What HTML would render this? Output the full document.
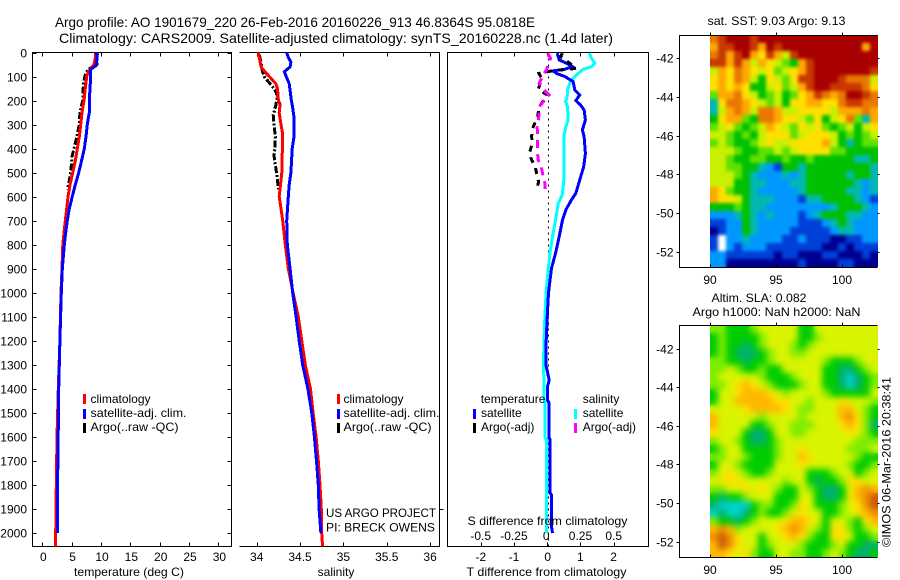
<!DOCTYPE html>
<html>
<head>
<meta charset="utf-8">
<title>Argo profile</title>
<style>
html,body{margin:0;padding:0;background:#fff;}
svg{display:block;}
text{font-family:"Liberation Sans",sans-serif;font-size:12px;fill:#000;}
.ln{fill:none;stroke-linejoin:miter;stroke-linecap:butt;shape-rendering:crispEdges;}
.ax{stroke:#000;stroke-width:1;shape-rendering:crispEdges;fill:none;}
</style>
</head>
<body>
<svg id="chart" xmlns="http://www.w3.org/2000/svg" width="900" height="580" viewBox="0 0 900 580">
  <defs>
    <clipPath id="clip-sst"><rect x="710" y="35" width="168" height="232"/></clipPath>
    <clipPath id="clip-sla"><rect x="710" y="325" width="168" height="232"/></clipPath>
    <filter id="soft-sst" filterUnits="userSpaceOnUse" x="690" y="15" width="210" height="272" color-interpolation-filters="sRGB">
      <feGaussianBlur in="SourceGraphic" stdDeviation="1.6" result="b"/>
      <feMerge><feMergeNode in="SourceGraphic"/><feMergeNode in="b"/></feMerge>
    </filter>
    <filter id="soft-sla" filterUnits="userSpaceOnUse" x="690" y="305" width="210" height="272" color-interpolation-filters="sRGB">
      <feGaussianBlur in="SourceGraphic" stdDeviation="3.2" result="b"/>
      <feMerge><feMergeNode in="SourceGraphic"/><feMergeNode in="b"/></feMerge>
    </filter>
  </defs>
  <text x="55" y="27" textLength="480" lengthAdjust="spacingAndGlyphs" style="font-size:14px">Argo profile: AO 1901679_220 26-Feb-2016 20160226_913 46.8364S 95.0818E</text>
  <text x="59" y="43" textLength="554" lengthAdjust="spacingAndGlyphs" style="font-size:14px">Climatology: CARS2009. Satellite-adjusted climatology: synTS_20160228.nc (1.4d later)</text>

  <path class="ax" d="M32.5 52.5H231.5V546.5H32.5Z"/>
  <path class="ax" d="M239.5 52.5H439.5V546.5H239.5"/>
  <path class="ax" d="M447.5 52.5H648.5V546.5H447.5Z"/>
  <line class="ax" x1="439.5" y1="509.5" x2="443.5" y2="509.5"/>

  <g id="ticks"></g>
  <g id="series"></g>

  <g>
    <rect x="83" y="394" width="3" height="10" fill="#ff0000"/>
    <rect x="83" y="409" width="3" height="10" fill="#0000ff"/>
    <rect x="83" y="423" width="3" height="10" fill="#000"/>
    <text x="90.5" y="403">climatology</text>
    <text x="90.5" y="417" textLength="96" lengthAdjust="spacingAndGlyphs">satellite-adj. clim.</text>
    <text x="90.5" y="431" textLength="88" lengthAdjust="spacingAndGlyphs">Argo(..raw -QC)</text>
  </g>
  <g>
    <rect x="337" y="394" width="3" height="10" fill="#ff0000"/>
    <rect x="337" y="409" width="3" height="10" fill="#0000ff"/>
    <rect x="337" y="423" width="3" height="10" fill="#000"/>
    <text x="343.5" y="403">climatology</text>
    <text x="343.5" y="417" textLength="96" lengthAdjust="spacingAndGlyphs">satellite-adj. clim.</text>
    <text x="343.5" y="431" textLength="88" lengthAdjust="spacingAndGlyphs">Argo(..raw -QC)</text>
  </g>
  <text x="326" y="517" textLength="110" lengthAdjust="spacingAndGlyphs">US ARGO PROJECT</text>
  <text x="326" y="531.5" textLength="109" lengthAdjust="spacingAndGlyphs">PI: BRECK OWENS</text>

  <g>
    <text x="480.7" y="403">temperature</text>
    <rect x="473" y="409" width="3" height="10" fill="#0000ff"/>
    <rect x="473" y="423" width="3" height="10" fill="#000"/>
    <text x="481" y="417">satellite</text>
    <text x="481" y="431">Argo(-adj)</text>
    <text x="582.7" y="403">salinity</text>
    <rect x="574" y="409" width="3" height="10" fill="#00ffff"/>
    <rect x="574" y="423" width="3" height="10" fill="#ff00ff"/>
    <text x="582.7" y="417">satellite</text>
    <text x="582.7" y="431">Argo(-adj)</text>
  </g>

  <text x="129" y="576" text-anchor="middle" textLength="110" lengthAdjust="spacingAndGlyphs">temperature (deg C)</text>
  <text x="336" y="576" text-anchor="middle">salinity</text>
  <text x="546.5" y="576" text-anchor="middle" textLength="160" lengthAdjust="spacingAndGlyphs">T difference from climatology</text>
  <text x="547.5" y="525" text-anchor="middle" textLength="160" lengthAdjust="spacingAndGlyphs">S difference from climatology</text>

  <text x="707.5" y="25" textLength="138" lengthAdjust="spacingAndGlyphs">sat. SST: 9.03 Argo: 9.13</text>
  <text x="711.5" y="302" textLength="95" lengthAdjust="spacingAndGlyphs">Altim. SLA: 0.082</text>
  <text x="692.5" y="316" textLength="168" lengthAdjust="spacingAndGlyphs">Argo h1000: NaN h2000: NaN</text>
  <g id="maps"></g>
  <text transform="translate(890.5,547) rotate(-90)" textLength="170" lengthAdjust="spacingAndGlyphs">©IMOS 06-Mar-2016 20:38:41</text>
</svg>

<script>
// ---- axis tick values ----
var depthTicks = [0,100,200,300,400,500,600,700,800,900,1000,1100,1200,1300,1400,1500,1600,1700,1800,1900,2000];
var tempTicks = [0,5,10,15,20,25,30];
var salTicks = [34,34.5,35,35.5,36];
var salTickLabels = ['34','34.5','35','35.5','36'];
var dTTicks = [-2,-1,0,1,2];
var dSTicks = [-0.5,-0.25,0,0.25,0.5];
var lonTicks = [90,95,100];
var latTicks = [-42,-44,-46,-48,-50,-52];

// ---- temperature profiles ----
var tempClimDepth = [0,20,50,80,100,150,200,250,300,350,400,450,500,550,600,650,700,750,800,900,1000,1200,1400,1600,1800,2000,2056];
var tempClim = [9.1,9.05,8.8,7.85,7.56,7.33,7.1,6.76,6.54,6.3,5.96,5.62,5.18,4.72,4.38,4.15,3.92,3.7,3.5,3.35,3.19,3.0,2.73,2.5,2.39,2.28,2.28];
var tempSatDepth = [0,30,55,70,100,200,250,300,350,400,450,500,550,600,650,700,750,800,900,1000,1200,1400,1500,1700,1800,2000];
var tempSat = [9.26,9.3,9.15,8.24,8.24,8.0,8.0,7.67,7.45,7.16,6.7,6.2,5.62,5.1,4.6,4.26,3.98,3.75,3.4,3.24,3.0,2.79,2.75,2.67,2.56,2.56];
var tempArgoDepth = [5,50,70,85,130,200,250,300,350,400,430,480,520,570];
var tempArgo = [9.37,9.3,7.85,7.4,7.0,6.9,6.4,6.3,5.9,5.4,5.1,4.9,4.7,4.3];

// ---- salinity profiles ----
var salClimDepth = [0,30,60,80,100,130,150,200,215,250,300,340,500,600,650,700,800,900,1000,1100,1200,1300,1400,1500,1600,1700,1800,1900,2000,2056];
var salClim = [34.02,34.035,34.05,34.095,34.145,34.22,34.24,34.25,34.27,34.26,34.28,34.30,34.29,34.26,34.28,34.30,34.33,34.365,34.42,34.48,34.52,34.56,34.62,34.65,34.685,34.71,34.73,34.745,34.75,34.76];
var salSatDepth = [0,20,40,60,80,100,130,200,230,270,350,400,500,550,600,700,800,900,1000,1100,1200,1300,1400,1500,1600,1700,1800,1900,2000];
var salSat = [34.346,34.365,34.395,34.385,34.32,34.34,34.375,34.4,34.415,34.43,34.43,34.41,34.395,34.375,34.365,34.346,34.353,34.385,34.415,34.455,34.49,34.53,34.59,34.635,34.665,34.69,34.71,34.72,34.74];
var salArgoDepth = [10,40,70,100,130,155,180,220,260,300,350,400,430,480,530,570];
var salArgo = [34.03,34.05,34.06,34.085,34.155,34.21,34.24,34.22,34.19,34.2,34.215,34.21,34.2,34.22,34.24,34.25];

// ---- differences from climatology ----
var dTSatDepth = [3,31,45,59,70,76,87,100,121,156,177,200,218,239,281,322,350,420,475,531,586,614,655,697,766,836,898,1000,1100,1200,1300,1363,1390,1446,1460,1605,1610,1834,1840,1973,2000];
var dTSat = [0.30,0.36,0.58,0.76,0.53,0.18,0.28,0.53,0.78,0.83,0.98,0.86,1.0,1.11,1.15,1.06,1.11,1.15,1.10,0.98,0.86,0.73,0.56,0.46,0.36,0.25,0.13,0.04,0.0,-0.03,-0.04,0.06,0.01,0.01,0.06,0.06,0.09,0.09,0.13,0.13,0.16];
var dSSatDepth = [3,24,45,59,70,87,107,128,156,184,205,225,281,309,350,420,531,593,628,697,766,836,898,1000,1100,1200,1300,1363,1446,1460,1605,1610,1973,2000];
var dSSat = [0.316,0.333,0.358,0.333,0.27,0.233,0.195,0.17,0.153,0.15,0.138,0.153,0.158,0.14,0.125,0.125,0.125,0.113,0.083,0.063,0.04,0.02,0.008,-0.008,-0.017,-0.024,-0.028,-0.025,-0.023,-0.015,-0.015,-0.005,-0.005,-0.005];
var dTArgoDepth = [3,17,45,66,76,87,107,121,153,177,198,225,267,316,350,378,420,447,475,503,538,565];
var dTArgo = [0.46,0.40,0.68,0.88,0.16,-0.25,-0.17,-0.19,-0.27,0.0,-0.1,-0.24,-0.29,-0.44,-0.47,-0.45,-0.54,-0.47,-0.36,-0.32,-0.26,-0.31];
var dSArgoDepth = [3,24,73,87,128,153,177,225,281,311,350,420,447,475,517,544,579];
var dSArgo = [0.003,0.025,-0.005,-0.025,-0.06,-0.03,0.015,-0.06,-0.065,-0.075,-0.073,-0.073,-0.068,-0.045,-0.03,-0.018,-0.013];

// ---- map grids: each letter is one colour level, one string per latitude row, north to south ----
var sstRows = [
"jklllklllllllllllllll","ikkllkilkllllllllllil","jkiklihkigkllllllllll","kkikigihgfeikllllllll",
"gihjihghfghiklllllllk","hihjigehgfhkklllkjjjg","hihiheeghfgikllkkkkjh","fiijhgefgefhikjijllkj",
"dhjjihgfgehhiihhjkkjj","dgijigjjigghhhhgiiiji","ehiifejjihhgfheghjfdi","fghfefgihgfhghfefgegh",
"ggfefeghhhfghhhgefefg","fgfeefghgghhhhigedeff","gggfeeffgfghhhhffeeee","ggfeeffeefeefeeeeedde",
"ggffeedcbeedeeeeeeeed","gggfedcccdcdeeeeedeed","gggeeddcccddeeeeeedcd","ihfeedcccccdeeeeeddcd",
"ihhgedddcccbddeeeedcb","eeefeddccccccccdeeedc","cccdedcdcccbcdeeedd cc".replace(' ',''),"bbccedcccccbbbcdedccc",
"abccedccccbbbbbcddccc","bzccdccccbbcbbbaabbcc","bzcbcccbbbbbbbaababbb","ccbbbbbbabbaaabbaaaba",
"ccaaaaaaaaabaaaabbaaa"];
var slaRows = [
"ffeeefgggggeegggggggg","efeeeefggggeefggggggg","efeedefgggfefgggggggg","efedddefggffggggggggg",
"ffeedeefggggggfeeefgg","ffgfeefeegggggeeddefg","fgggggfeeefgggeedcdef","ffghihgfeeefggeedcdef",
"egghiiihgfggggfeeeeeg","eggiiiiihhggfggghgggf","gggghiiiihgffgggiigfe","igggggfggggfggggijhfe",
"iggggeefggfffggghihfd","hgggeddeggffggggghgfe","fggfeddefgggggggggfff","efggeeeefgghgggggfffg",
"ffggfeeefggihgggggfee","eggfeeeeggghgggggfeef","fghgfeefggggeeefggefg","ghhhgggggfggedeefhhgg",
"ffgghghgfeegfeddegiji","edeefgggeeeggeddehijk","dcccceffeefhgeeefghjk","cdccdefeefghggeefghij",
"feedefggghiihgeggfehi","ijifgggghijigfehhfefg","jkjhggegghihfeehhgeef","ikjhggefgggfeeefgeedd",
"iihghfeeggffeefgfedde"];
</script>
<script>
var NS = 'http://www.w3.org/2000/svg';
function mk(tag, parent, attrs) {
  var e = document.createElementNS(NS, tag);
  for (var k in attrs) e.setAttribute(k, attrs[k]);
  parent.appendChild(e);
  return e;
}
// axis functions
function yD(d) { return 52.5 + d * 0.2403; }
function xT(v) { return 42.3 + v * 5.87; }
function xS(v) { return 256.7 + (v - 34) * 86.7; }
function xDT(v) { return 547.2 + v * 33.2; }
function xDS(v) { return 547.2 + v * 133; }
function xLon(v) { return 710 + (v - 90) * 13.2; }
function yLat1(v) { return 58 + (-42 - v) * 19.4; }
function yLat2(v) { return 348.5 + (-42 - v) * 19.3; }

var tickLayer = document.getElementById('ticks');
var seriesLayer = document.getElementById('series');
var mapLayer = document.getElementById('maps');

function tickLine(parent, x1, y1, x2, y2) {
  var l = mk('line', parent, {x1: x1, y1: y1, x2: x2, y2: y2, 'class': 'ax'});
  
  
}
function label(parent, str, x, y, anchor) {
  var t = mk('text', parent, {x: x, y: y, 'text-anchor': anchor});
  t.textContent = str;
  
  
}
function rp(v) { return Math.round(v) + 0.5; }

// depth ticks
depthTicks.forEach(function (d) {
  var y = rp(yD(d));
  tickLine(tickLayer, 32.5, y, 36.5, y);
  tickLine(tickLayer, 227.5, y, 231.5, y);
  label(tickLayer, String(d), 27, Math.round(yD(d)) + 4.5, 'end');
});
// temperature ticks
tempTicks.forEach(function (v) {
  var x = rp(xT(v));
  tickLine(tickLayer, x, 52.5, x, 56.5);
  tickLine(tickLayer, x, 542.5, x, 546.5);
  label(tickLayer, String(v), xT(v) + 1, 561, 'middle');
});
// salinity ticks
salTicks.forEach(function (v, i) {
  var x = rp(xS(v));
  tickLine(tickLayer, x, 52.5, x, 56.5);
  tickLine(tickLayer, x, 542.5, x, 546.5);
  label(tickLayer, salTickLabels[i], xS(v), 561, 'middle');
});
// difference ticks
dTTicks.forEach(function (v) {
  var x = rp(xDT(v));
  tickLine(tickLayer, x, 52.5, x, 56.5);
  tickLine(tickLayer, x, 542.5, x, 546.5);
  label(tickLayer, String(v), xDT(v) + (v === 0 ? 0.5 : 0), 561, 'middle');
});
dSTicks.forEach(function (v) {
  label(tickLayer, String(v), xDS(v) + (v === 0 ? -1 : 0), 540, 'middle');
});

function drawLine(name, depths, vals, xf, color, width, dash) {
  var pts = depths.map(function (d, i) { return xf(vals[i]).toFixed(1) + ',' + yD(d).toFixed(1); }).join(' ');
  var a = {points: pts, 'class': 'ln', stroke: color, 'stroke-width': width};
  if (dash) a['stroke-dasharray'] = dash;
  var p = mk('polyline', seriesLayer, a);
  
  
}

drawLine('temperature-argo-line', tempArgoDepth, tempArgo, xT, '#000', 3, '7 2 2 2');
drawLine('temperature-climatology-line', tempClimDepth, tempClim, xT, '#ff0000', 3);
drawLine('temperature-satellite-line', tempSatDepth, tempSat, xT, '#0000ff', 3);

drawLine('salinity-argo-line', salArgoDepth, salArgo, xS, '#000', 3, '7 2 2 2');
drawLine('salinity-climatology-line', salClimDepth, salClim, xS, '#ff0000', 3);
drawLine('salinity-satellite-line', salSatDepth, salSat, xS, '#0000ff', 3);

var zeroLine = mk('line', seriesLayer, {x1: xDT(0) + 1.3, y1: 52.5, x2: xDT(0) + 1.3, y2: 546, stroke: '#000', 'stroke-width': 1, 'stroke-dasharray': '2 4', 'shape-rendering': 'crispEdges'});



drawLine('s-difference-satellite-line', dSSatDepth, dSSat, xDS, '#00ffff', 3);
drawLine('t-difference-satellite-line', dTSatDepth, dTSat, xDT, '#0000ff', 3);
drawLine('t-difference-argo-line', dTArgoDepth, dTArgo, xDT, '#000', 3, '6 6');
drawLine('s-difference-argo-line', dSArgoDepth, dSArgo, xDS, '#ff00ff', 3, '8 6');

// maps
var sstPalette = {a:'#000090',b:'#0040d8',c:'#0098ff',d:'#00b8b0',e:'#00c000',f:'#60e000',g:'#c8f000',h:'#ffe000',i:'#ffa800',j:'#e87800',k:'#c83800',l:'#a80000',z:'#ffffff'};
var slaPalette = {c:'#00d0d0',d:'#00b070',e:'#00cc00',f:'#80ec00',g:'#d8f400',h:'#ffe000',i:'#ffb800',j:'#f09000',k:'#c85808'};

function drawMap(name, rows, palette, top, yLat, labelY, clipId, filterId) {
  var g = mk('g', mapLayer, {});
  
  
  var clip = mk('g', g, {'clip-path': 'url(#' + clipId + ')'});
  var cells = mk('g', clip, {filter: 'url(#' + filterId + ')'});
  var cellW = 8, cellH = 8, left = 710;
  rows.forEach(function (row, r) {
    for (var c = 0; c < row.length; c++) {
      var cell = mk('rect', cells, {x: left + c * cellW, y: top + r * cellH, width: cellW, height: cellH, fill: palette[row.charAt(c)], 'shape-rendering': 'crispEdges'});
      
      
    }
  });
  var bottom = top + rows.length * cellH;
  var frame = mk('path', g, {'class': 'ax', d: 'M877.5 ' + (top + 0.5) + 'H679.5V' + (bottom + 0.5) + 'H877.5'});
  
  
  lonTicks.forEach(function (v) {
    var x = rp(xLon(v));
    tickLine(g, x, top + 0.5, x, top - 2.5);
    tickLine(g, x, bottom + 0.5, x, bottom - 2.5);
    label(g, String(v), xLon(v), labelY, 'middle');
  });
  latTicks.forEach(function (v) {
    var y = rp(yLat(v));
    tickLine(g, 676.5, y, 679.5, y);
    tickLine(g, 877.5, y, 879.5, y);
    label(g, String(v), 673.5, y + 4, 'end');
  });
}
drawMap('sst-map', sstRows, sstPalette, 35, yLat1, 284, 'clip-sst', 'soft-sst');
drawMap('sla-map', slaRows, slaPalette, 325, yLat2, 574, 'clip-sla', 'soft-sla');
</script>
</body>
</html>
